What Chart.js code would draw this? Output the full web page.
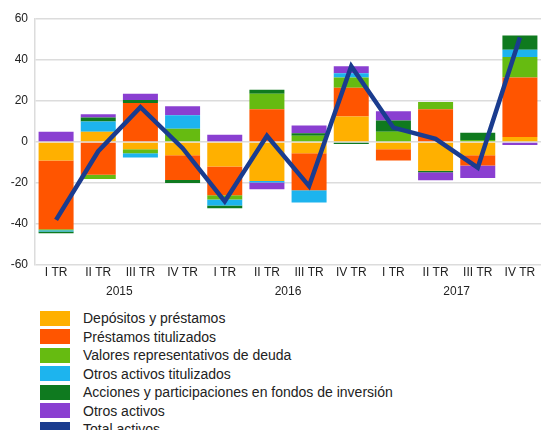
<!DOCTYPE html>
<html>
<head>
<meta charset="utf-8">
<script src="https://cdn.jsdelivr.net/npm/chart.js@4.4.1/dist/chart.umd.min.js"></script>
<style>
  html, body { margin: 0; padding: 0; background: #fff; }
  body { width: 541px; height: 430px; overflow: hidden; position: relative; font-family: "Liberation Sans", Arial, sans-serif; }
  #wrap { position: absolute; left: 0; top: 0; width: 541px; height: 300px; }
  #legend { position: absolute; left: 40px; top: 309px; }
  .row { height: 18.5px; display: flex; align-items: center; font-size: 14px; color: #222; white-space: nowrap; }
  .box { width: 30px; height: 15px; margin-right: 13px; flex: none; }
</style>
</head>
<body>
<div id="wrap"><canvas id="chart" width="541" height="300"></canvas></div>
<div id="legend"></div>
<script>
const quarters = ['I TR', 'II TR', 'III TR', 'IV TR', 'I TR', 'II TR', 'III TR', 'IV TR', 'I TR', 'II TR', 'III TR', 'IV TR'];
const years = ['2015', '2016', '2017'];

const depositos = [-9, 5, -3.5, -6.5, -12, -19, -5.5, 12.5, -3.5, -14, -6.5, 2.5];
const prestamosTitulizados = [-33.5, -16, 19, -12, -14, 16, -18, 14, -5.5, 16, -5, 29];
const valores = [-0.5, -2, -2, 6.5, -2, 7.5, 3, 5, 5, 3.5, 1, 10];
const otrosTitulizados = [-0.7, 5, -2, 6.5, -3, -0.7, -6, 2, 0, 0, 0, 3.5];
const acciones = [-0.8, 2, 1.5, -1.5, -1.3, 2, 1.3, -1, 5.5, -0.7, 3.5, 7];
const otrosActivos = [5, 1.5, 3, 4.5, 3.5, -3.3, 3.7, 3.5, 4.5, -4, -6, -1.5];
const totalActivos = [-38, -4.5, 17, -3, -29, 3, -21.5, 37, 7, 1.5, -12.5, 51];

const yTicks = [-60, -40, -20, 0, 20, 40, 60];

function barSet(label, data, color) {
    return {
        type: 'bar',
        label: label,
        data: data,
        backgroundColor: color,
        borderWidth: 0,
        barPercentage: 0.83,
        categoryPercentage: 1,
        order: 1,
        stack: 'flows'
    };
}

const datasets = [
    barSet('Depósitos y préstamos', depositos, '#ffb000'),
    barSet('Préstamos titulizados', prestamosTitulizados, '#ff5500'),
    barSet('Valores representativos de deuda', valores, '#66bb11'),
    barSet('Otros activos titulizados', otrosTitulizados, '#1db4ee'),
    barSet('Acciones y participaciones en fondos de inversión', acciones, '#0f7a1f'),
    barSet('Otros activos', otrosActivos, '#8a3fd1'),
    {
        type: 'line',
        label: 'Total activos',
        data: totalActivos,
        borderColor: '#1a3c8f',
        backgroundColor: '#1a3c8f',
        borderWidth: 4.5,
        pointRadius: 0,
        tension: 0,
        order: 0,
        stack: 'total'
    }
];

const tickFont = { family: '"Liberation Sans", Arial, sans-serif', size: 12 };

const chart = new Chart(document.getElementById('chart').getContext('2d'), {
    data: { labels: quarters, datasets: datasets },
    options: {
        responsive: false,
        animation: false,
        layout: { padding: { top: 19, right: 0, left: 0, bottom: 0 } },
        plugins: { legend: { display: false }, tooltip: { enabled: false } },
        scales: {
            x: {
                stacked: true,
                grid: { display: false, drawTicks: false },
                border: { display: false },
                afterFit: scale => { scale.height = 19; },
                ticks: { font: tickFont, color: '#222', padding: 0, maxRotation: 0, autoSkip: false }
            },
            year: {
                type: 'category',
                labels: years,
                position: 'bottom',
                offset: true,
                grid: { display: false, drawTicks: false },
                border: { display: false },
                afterFit: scale => { scale.height = 16; },
                ticks: { font: tickFont, color: '#222', padding: 0, maxRotation: 0 }
            },
            y: {
                stacked: true,
                min: -60,
                max: 60,
                afterBuildTicks: scale => { scale.ticks = yTicks.map(v => ({ value: v })); },
                afterFit: scale => { scale.width = 35; },
                grid: { color: '#dcdcdc', lineWidth: 1.5, drawTicks: false },
                border: { display: true, color: '#dcdcdc', width: 1.5 },
                ticks: { font: tickFont, color: '#222', padding: 7 }
            }
        }
    }
});

const legend = document.getElementById('legend');
chart.data.datasets.forEach(ds => {
    const row = document.createElement('div');
    row.className = 'row';
    const box = document.createElement('span');
    box.className = 'box';
    box.style.background = ds.backgroundColor;
    const text = document.createElement('span');
    text.textContent = ds.label;
    row.appendChild(box);
    row.appendChild(text);
    legend.appendChild(row);
});
</script>
</body>
</html>
